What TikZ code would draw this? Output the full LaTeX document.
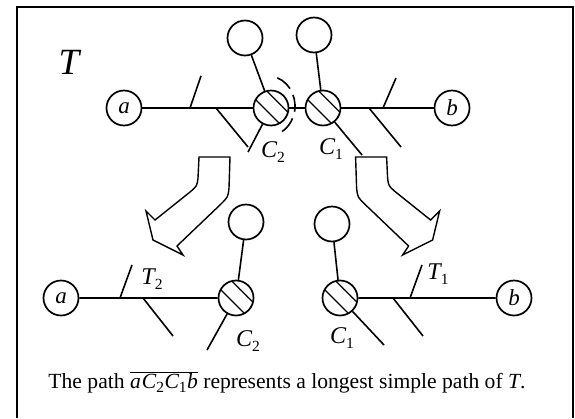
\documentclass[tikz,border=0pt]{standalone}
\usepackage{fontspec}
\setmainfont{Liberation Serif}
\newcommand\subsc[1]{\raisebox{-0.45ex}{\fontsize{15.5}{15.5}\selectfont\upshape #1}}
\tikzset{
  edge/.style={line width=1.6pt},
  circ/.style={circle, draw, line width=1.7pt, minimum size=35pt, inner sep=0pt,
    font=\fontsize{23}{23}\selectfont\itshape},
  hcirc/.style={circ, path picture={
    \draw[line width=1.3pt] ([shift={(-7.7pt,20.5pt)}]path picture bounding box.center)
       -- ([shift={(20.5pt,-7.7pt)}]path picture bounding box.center);
    \draw[line width=1.3pt] ([shift={(-17.6pt,10.6pt)}]path picture bounding box.center)
       -- ([shift={(10.6pt,-17.6pt)}]path picture bounding box.center);}},
  lab/.style={font=\fontsize{24}{24}\selectfont\itshape, inner sep=0pt},
  bigarrow/.style={line width=1.4pt, line join=miter},
}
\begin{document}
\begin{tikzpicture}[x=1pt,y=-1pt]
\useasboundingbox (0,0) rectangle (575,418);
% frame
\draw[line width=1.3pt] (17,418) -- (17,7) -- (573,7) -- (573,418);

% ---------- top tree T ----------
\node[lab, font=\fontsize{37}{37}\selectfont\itshape] (T) at (69,62) {T};
\node[circ] (a) at (124,108) {a};
\node[hcirc] (c2) at (271,108) {};
\node[hcirc] (c1) at (323,108) {};
\node[circ] (b) at (452,108) {b};
\node[circ] (u2) at (245,38) {};
\node[circ] (u1) at (314,35) {};
\coordinate (p1) at (190,108); \coordinate (p1e) at (201,76);
\coordinate (p2) at (216,108); \coordinate (p2e) at (248,147);
\coordinate (d2) at (248,152);
\coordinate (d1) at (362,155);
\coordinate (p3) at (383,108); \coordinate (p3e) at (396,78);
\coordinate (p4) at (369,108); \coordinate (p4e) at (401,147);
\draw[edge] (a) -- (c2) (c2) -- (c1) (c1) -- (b);
\draw[edge] (p1) -- (p1e) (p2) -- (p2e) (p3) -- (p3e) (p4) -- (p4e);
\draw[edge] (u2) -- (c2) (c2) -- (d2) (u1) -- (c1) (c1) -- (d1);
\draw[line width=1.6pt, dash pattern=on 17pt off 7pt] (268,106) ++(70:27 and -30) arc[start angle=70, end angle=-62, x radius=27, y radius=-30];
\node[lab] (lc2) at (273,152) {C\subsc{2}};
\node[lab] (lc1) at (331,149) {C\subsc{1}};

% ---------- hollow bent arrows ----------
\draw[bigarrow] (199,157) -- (230,157) -- (229,188) .. controls (228,197) .. (221,204)
  -- (177,246) -- (183,255) -- (153,240) -- (146,211) -- (155,220) -- (190,192)
  .. controls (197,186) .. (198,178) -- cycle;
\draw[bigarrow] (386.6,157) -- (355.6,157) -- (356.6,188) .. controls (357.6,197) .. (364.6,204)
  -- (408.6,246) -- (402.6,255) -- (432.6,240) -- (439.6,211) -- (430.6,220) -- (395.6,192)
  .. controls (388.6,186) .. (387.6,178) -- cycle;

% ---------- bottom left T2 ----------
\node[circ] (a2) at (61,298) {a};
\node[hcirc] (cc2) at (236,298) {};
\node[circ] (uu2) at (246,222) {};
\coordinate (q1) at (120,298); \coordinate (q1e) at (132,265);
\coordinate (q2) at (143,298); \coordinate (q2e) at (173,336);
\coordinate (dd2) at (207,350);
\draw[edge] (a2) -- (cc2) (uu2) -- (cc2) (cc2) -- (dd2);
\draw[edge] (q1) -- (q1e) (q2) -- (q2e);
\node[lab] (lt2) at (152,279) {T\subsc{2}};
\node[lab] (lcc2) at (248,341) {C\subsc{2}};

% ---------- bottom right T1 ----------
\node[hcirc] (cc1) at (340,298) {};
\node[circ] (uu1) at (332,224) {};
\node[circ] (b1) at (514,298) {b};
\coordinate (q3) at (393,298); \coordinate (q3e) at (423,336);
\coordinate (q4) at (410,298); \coordinate (q4e) at (422,265);
\coordinate (dd1) at (384,345);
\draw[edge] (cc1) -- (b1) (uu1) -- (cc1) (cc1) -- (dd1);
\draw[edge] (q3) -- (q3e) (q4) -- (q4e);
\node[lab] (lt1) at (438,274) {T\subsc{1}};
\node[lab] (lcc1) at (342,338) {C\subsc{1}};

% ---------- caption ----------
\node[font=\fontsize{21.6}{21.6}\selectfont, inner sep=0pt] (cap) at (287,382)
  {The path $\overline{\hbox{\itshape a\kern1ptC\subsc{2}\kern0.5ptC\subsc{1}\kern0.5ptb}}$ represents a longest simple path of \textit{T}.};
\end{tikzpicture}
\end{document}
